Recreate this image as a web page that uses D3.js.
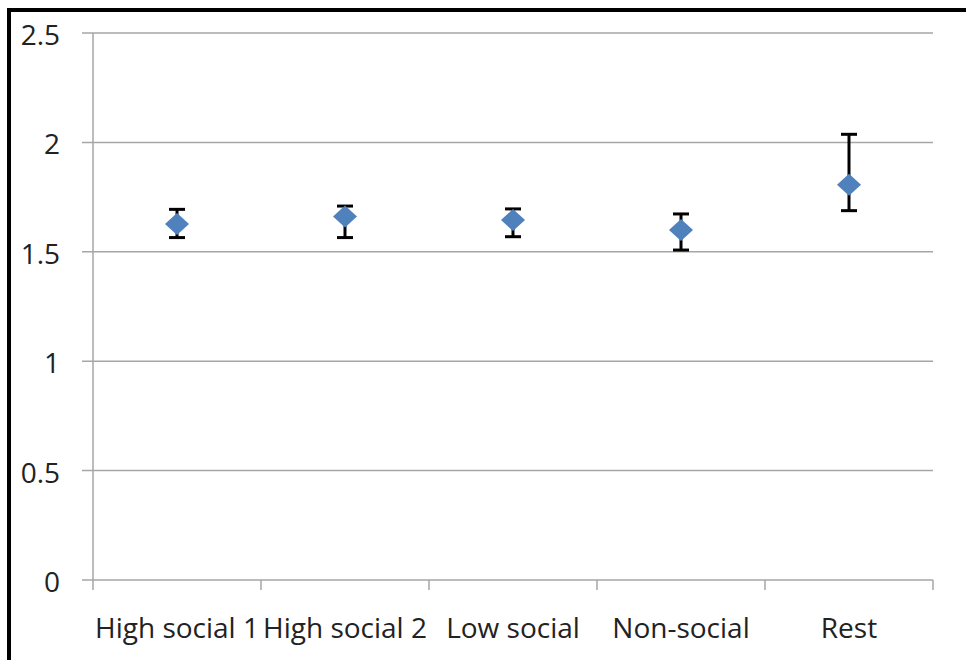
<!DOCTYPE html>
<html>
<head>
<meta charset="utf-8">
<script src="https://cdn.jsdelivr.net/npm/d3@7"></script>
<style>
  body { margin: 0; background: #fff; }
  svg { display: block; }
</style>
</head>
<body>
<svg id="chart"></svg>
<script>
// categories and values
var categories = ["High social 1", "High social 2", "Low social", "Non-social", "Rest"];
var means = [1.627, 1.661, 1.645, 1.600, 1.807];
var upper = [1.694, 1.709, 1.696, 1.673, 2.037];
var lower = [1.565, 1.565, 1.569, 1.508, 1.688];
var yTicks = [0, 0.5, 1, 1.5, 2, 2.5];

var W = 966, H = 660;
var margin = { top: 33, right: 33, bottom: 80, left: 93 };
var width = W - margin.left - margin.right;
var height = H - margin.top - margin.bottom;
var font = "'Open Sans', sans-serif";
var fontSize = "28px";

var svg = d3.select("#chart")
    .attr("width", W)
    .attr("height", H);

// outer frame (only top and left visible)
svg.append("rect")
    .attr("x", 9).attr("y", 10)
    .attr("width", W + 20).attr("height", H + 20)
    .attr("fill", "none")
    .attr("stroke", "#000")
    .attr("stroke-width", 4);

var g = svg.append("g")
    .attr("transform", "translate(" + margin.left + "," + margin.top + ")");

var x = d3.scaleBand()
    .domain(categories)
    .range([0, width]);

var y = d3.scaleLinear()
    .domain([0, 2.5])
    .range([height, 0]);

// gridlines + left ticks
g.selectAll(".grid")
    .data(yTicks)
    .enter().append("line")
    .attr("x1", -11)
    .attr("x2", width)
    .attr("y1", d => y(d))
    .attr("y2", d => y(d))
    .attr("stroke", "#a6a6a6")
    .attr("stroke-width", 1.5);

// y axis line
g.append("line")
    .attr("x1", 0).attr("x2", 0)
    .attr("y1", 0).attr("y2", height)
    .attr("stroke", "#a6a6a6")
    .attr("stroke-width", 1.5);

// x ticks at category boundaries
var bounds = categories.map(c => x(c)).concat([width]);
g.selectAll(".xtick")
    .data(bounds)
    .enter().append("line")
    .attr("x1", d => d).attr("x2", d => d)
    .attr("y1", height).attr("y2", height + 10)
    .attr("stroke", "#a6a6a6")
    .attr("stroke-width", 1.5);

// y labels
g.selectAll(".ylab")
    .data(yTicks)
    .enter().append("text")
    .attr("x", -33)
    .attr("y", d => y(d) + 2)
    .attr("dy", "0.36em")
    .attr("text-anchor", "end")
    .style("font-family", font)
    .style("font-size", fontSize)
    .attr("fill", "#222")
    .text(d => d);

// x labels
g.selectAll(".xlab")
    .data(categories)
    .enter().append("text")
    .attr("x", d => x(d) + x.bandwidth() / 2)
    .attr("y", height + 58)
    .attr("text-anchor", "middle")
    .style("font-family", font)
    .style("font-size", fontSize)
    .attr("fill", "#222")
    .text(d => d);

// error bars
var cx = (d, i) => x(categories[i]) + x.bandwidth() / 2;
var cap = 8;
var eb = g.selectAll(".err")
    .data(means)
    .enter().append("g");

eb.append("line")
    .attr("x1", cx).attr("x2", cx)
    .attr("y1", (d, i) => y(upper[i]))
    .attr("y2", (d, i) => y(lower[i]))
    .attr("stroke", "#000").attr("stroke-width", 3);
eb.append("line")
    .attr("x1", (d, i) => cx(d, i) - cap).attr("x2", (d, i) => cx(d, i) + cap)
    .attr("y1", (d, i) => y(upper[i])).attr("y2", (d, i) => y(upper[i]))
    .attr("stroke", "#000").attr("stroke-width", 3);
eb.append("line")
    .attr("x1", (d, i) => cx(d, i) - cap).attr("x2", (d, i) => cx(d, i) + cap)
    .attr("y1", (d, i) => y(lower[i])).attr("y2", (d, i) => y(lower[i]))
    .attr("stroke", "#000").attr("stroke-width", 3);

// diamond markers
g.selectAll(".pt")
    .data(means)
    .enter().append("path")
    .attr("d", "M0,-11L12,0L0,11L-12,0Z")
    .attr("transform", (d, i) => "translate(" + cx(d, i) + "," + y(d) + ")")
    .attr("fill", "#4f81bd");
</script>
</body>
</html>
